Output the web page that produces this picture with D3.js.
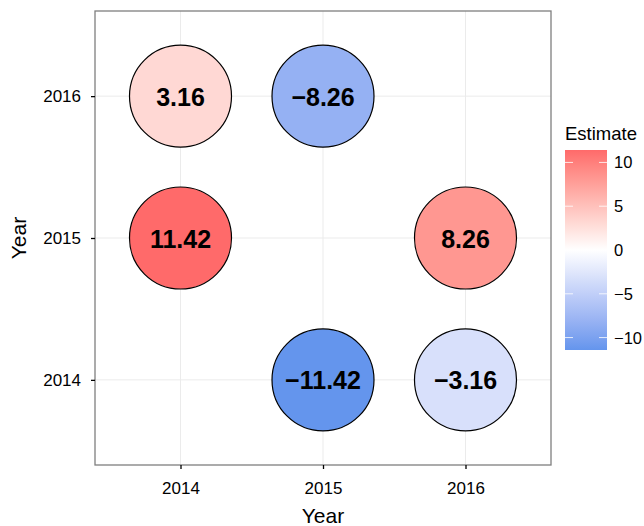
<!DOCTYPE html>
<html>
<head>
<meta charset="utf-8">
<script src="https://cdn.jsdelivr.net/npm/d3@7"></script>
<style>
  body { margin: 0; background: #fff; }
  text { font-family: "Liberation Sans", Arial, sans-serif; }
</style>
</head>
<body>
<div id="chart"></div>
<script>
// data
var years = ["2014", "2015", "2016"];
var xYears = ["2014", "2015", "2015", "2014", "2016", "2016"];
var yYears = ["2015", "2016", "2014", "2016", "2015", "2014"];
var estimates = [11.42, -8.26, -11.42, 3.16, 8.26, -3.16];
var legendTicks = [10, 5, 0, -5, -10];

var W = 644, H = 526;
var panel = { left: 95, top: 11, right: 551, bottom: 465 };

var svg = d3.select("#chart").append("svg")
    .attr("width", W).attr("height", H);

var x = d3.scalePoint().domain(years)
    .range([panel.left, panel.right]).padding(0.6);
var y = d3.scalePoint().domain(years)
    .range([panel.bottom, panel.top]).padding(0.6);

var lim = d3.max(estimates, function(d) { return Math.abs(d); });
var color = d3.scaleLinear()
    .domain([-lim, 0, lim])
    .range(["#6495ED", "#ffffff", "#FF6A6A"])
    .interpolate(d3.interpolateLab);

// grid
var grid = svg.append("g");
years.forEach(function(v) {
    grid.append("line")
        .attr("x1", x(v)).attr("x2", x(v))
        .attr("y1", panel.top).attr("y2", panel.bottom)
        .attr("stroke", "#ebebeb").attr("stroke-width", 1);
    grid.append("line")
        .attr("x1", panel.left).attr("x2", panel.right)
        .attr("y1", y(v)).attr("y2", y(v))
        .attr("stroke", "#ebebeb").attr("stroke-width", 1);
});

// circles
var cells = svg.append("g").selectAll("g")
    .data(estimates.map(function(d, i) { return { x: xYears[i], y: yYears[i], v: d }; }))
    .join("g")
    .attr("transform", function(d) { return "translate(" + x(d.x) + "," + y(d.y) + ")"; });

cells.append("circle")
    .attr("r", 51)
    .attr("fill", function(d) { return color(d.v); })
    .attr("stroke", "#000").attr("stroke-width", 1.2);

cells.append("text")
    .attr("text-anchor", "middle")
    .attr("dy", "0.38em")
    .attr("font-size", 25).attr("font-weight", "bold")
    .text(function(d) { return d3.format(".2f")(d.v).replace("-", "\u2212"); });

// panel border
svg.append("rect")
    .attr("x", panel.left).attr("y", panel.top)
    .attr("width", panel.right - panel.left).attr("height", panel.bottom - panel.top)
    .attr("fill", "none").attr("stroke", "#7f7f7f").attr("stroke-width", 1.3);

// axes
var xAxis = svg.append("g")
    .attr("transform", "translate(0," + panel.bottom + ")")
    .call(d3.axisBottom(x).tickSize(4).tickPadding(13));
var yAxis = svg.append("g")
    .attr("transform", "translate(" + panel.left + ",0)")
    .call(d3.axisLeft(y).tickSize(4).tickPadding(10));
[xAxis, yAxis].forEach(function(a) {
    a.attr("font-size", 17).attr("font-family", null);
    a.select(".domain").remove();
    a.selectAll(".tick line").attr("stroke", "#000").attr("stroke-width", 1.3);
    a.selectAll(".tick text").attr("fill", "#000");
});
xAxis.selectAll(".tick text").attr("dy", "0.72em");

svg.append("text")
    .attr("x", (panel.left + panel.right) / 2).attr("y", 523)
    .attr("text-anchor", "middle").attr("font-size", 21).text("Year");
svg.append("text")
    .attr("transform", "translate(26," + ((panel.top + panel.bottom) / 2) + ") rotate(-90)")
    .attr("text-anchor", "middle").attr("font-size", 21).text("Year");

// legend
var lg = { x: 565, top: 150, bottom: 350, w: 42 };
var ls = d3.scaleLinear().domain([-lim, lim]).range([lg.bottom, lg.top]);
var defs = svg.append("defs");
var grad = defs.append("linearGradient").attr("id", "grad")
    .attr("x1", 0).attr("x2", 0).attr("y1", 1).attr("y2", 0);
d3.range(0, 1.0001, 0.05).forEach(function(t) {
    grad.append("stop").attr("offset", t)
        .attr("stop-color", color(-lim + 2 * lim * t));
});
svg.append("rect")
    .attr("x", lg.x).attr("y", lg.top)
    .attr("width", lg.w).attr("height", lg.bottom - lg.top)
    .attr("fill", "url(#grad)");
var lt = svg.append("g");
legendTicks.forEach(function(t) {
    lt.append("line").attr("x1", lg.x).attr("x2", lg.x + 8)
        .attr("y1", ls(t)).attr("y2", ls(t)).attr("stroke", "#fff").attr("stroke-opacity", 0.8);
    lt.append("line").attr("x1", lg.x + lg.w - 8).attr("x2", lg.x + lg.w)
        .attr("y1", ls(t)).attr("y2", ls(t)).attr("stroke", "#fff").attr("stroke-opacity", 0.8);
    lt.append("text").attr("x", lg.x + lg.w + 7).attr("y", ls(t))
        .attr("dy", "0.36em").attr("font-size", 16.5)
        .text(String(t).replace("-", "\u2212"));
});
svg.append("text").attr("x", lg.x).attr("y", 140)
    .attr("font-size", 18.5).text("Estimate");
</script>
</body>
</html>
